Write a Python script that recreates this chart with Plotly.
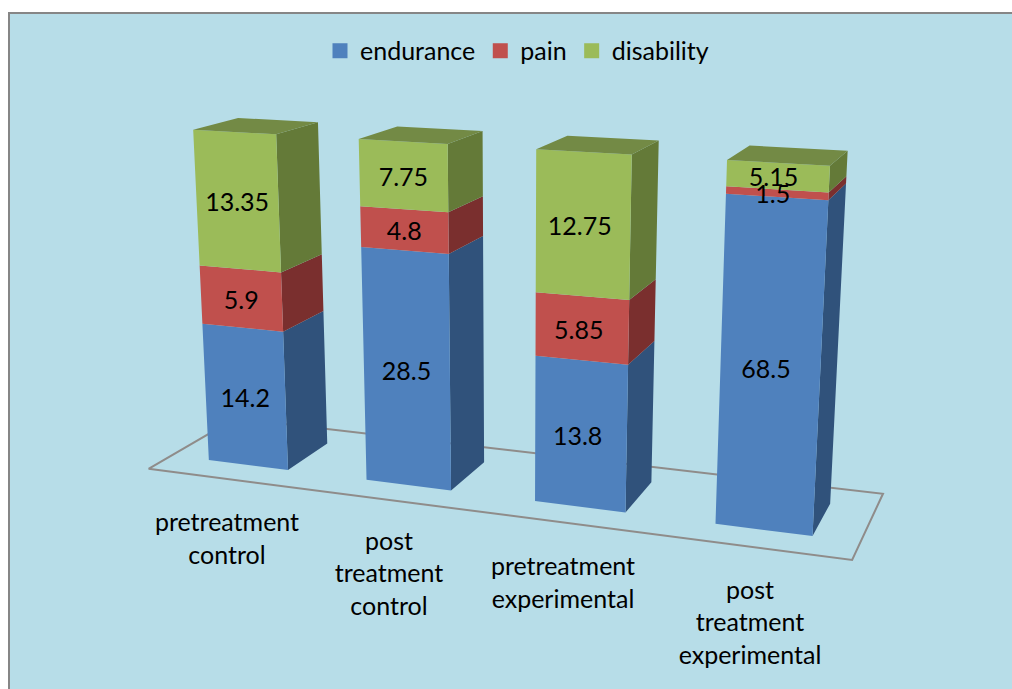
import numpy as np
import plotly.graph_objects as go

# ---- chart data ----
categories = ["pretreatment<br>control", "post<br>treatment<br>control",
              "pretreatment<br>experimental", "post<br>treatment<br>experimental"]
series_names = ["endurance", "pain", "disability"]
endurance = [14.2, 28.5, 13.8, 68.5]
pain = [5.9, 4.8, 5.85, 1.5]
disability = [13.35, 7.75, 12.75, 5.15]

# ---- styles ----
FONT = "Lato"
FS = 25
BG = "#B7DDE8"
FRONT = ["#4F81BD", "#C0504D", "#9BBB59"]
SIDE = ["#30527B", "#7A2F2E", "#647A38"]
TOP = "#738A45"
FLOOR = "#8F8C8A"
LABEL_DY = 4
LABEL_DX = [0, 0, -3, -4]
cat_label_xy = [(227, 541), (389, 576), (563, 585), (750, 625)]

# ---- camera calibration: picture positions of known points of the 3D chart box ----
floor_world = [(0, 0, 0), (4, 0, 0), (4, 1, 0), (0, 1, 0)]
floor_px = [(149, 469), (852, 559), (882, 494), (236, 418)]
# for each bar: top front-left, top front-right, top back-right, top back-left,
# bottom front-left, bottom front-right, bottom back-right
bar_px = [
    [(193, 130), (277, 135), (318, 122), (238, 118), (208, 460), (288, 470), (327, 443)],
    [(358, 139), (448, 144), (483, 131), (397, 126), (366, 480), (452, 491), (484, 462)],
    [(536, 149), (632, 154), (659, 141), (567, 136), (534, 501), (626, 512), (652, 483)],
    [(727, 160), (830, 166), (848, 151), (749, 145), (715, 524), (813, 536), (831, 504)],
]


def bar_world(i, g, a):
    x0, x1, y0, y1 = i + g, i + 1 - g, a, 1 - a
    return [(x0, y0, 1), (x1, y0, 1), (x1, y1, 1), (x0, y1, 1),
            (x0, y0, 0), (x1, y0, 0), (x1, y1, 0)]


def fit_camera(g, a):
    world = list(floor_world)
    px = list(floor_px)
    for i in range(4):
        world += bar_world(i, g, a)
        px += bar_px[i]
    rows = []
    for (X, Y, Z), (u, v) in zip(world, px):
        u, v = u / 500.0, v / 500.0
        rows.append([X, Y, Z, 1, 0, 0, 0, 0, -u * X, -u * Y, -u * Z, -u])
        rows.append([0, 0, 0, 0, X, Y, Z, 1, -v * X, -v * Y, -v * Z, -v])
    _, s, vt = np.linalg.svd(np.array(rows, dtype=float))
    return vt[-1].reshape(3, 4), s[-1]


best = None
for g_try in np.arange(0.18, 0.32, 0.005):
    for a_try in np.arange(0.05, 0.35, 0.01):
        P_try, err = fit_camera(g_try, a_try)
        if best is None or err < best[0]:
            best = (err, g_try, a_try, P_try)
_, GAP, DEPTH_GAP, P = best


def project(X, Y, Z):
    h = P @ np.array([X, Y, Z, 1.0])
    return 500.0 * h[0] / h[2], 500.0 * h[1] / h[2]


def add_poly(xs, ys, corners):
    for c in list(corners) + [corners[0]]:
        x, y = project(*c)
        xs.append(x)
        ys.append(y)
    xs.append(None)
    ys.append(None)


values = np.array([endurance, pain, disability], dtype=float)
shares = values / values.sum(axis=0)
levels = np.vstack([np.zeros(4), np.cumsum(shares, axis=0)])

fig = go.Figure()

# floor
fx, fy = [], []
add_poly(fx, fy, floor_world)
fig.add_trace(go.Scatter(x=fx[:-1], y=fy[:-1], mode="lines", showlegend=False, hoverinfo="skip",
                         line=dict(color=FLOOR, width=2)))

label_x, label_y, label_t = [], [], []
for s, name in enumerate(series_names):
    front_x, front_y, side_x, side_y = [], [], [], []
    for i in range(4):
        x0, x1, y0, y1 = i + GAP, i + 1 - GAP, DEPTH_GAP, 1 - DEPTH_GAP
        z0, z1 = levels[s, i], levels[s + 1, i]
        add_poly(side_x, side_y, [(x1, y0, z0), (x1, y1, z0), (x1, y1, z1), (x1, y0, z1)])
        add_poly(front_x, front_y, [(x0, y0, z0), (x1, y0, z0), (x1, y0, z1), (x0, y0, z1)])
        lx, ly = project((x0 + x1) / 2, y0, (z0 + z1) / 2)
        label_x.append(lx + LABEL_DX[i])
        label_y.append(ly + LABEL_DY)
        label_t.append(f"{values[s, i]:g}")
    fig.add_trace(go.Scatter(x=side_x, y=side_y, mode="lines", fill="toself", fillcolor=SIDE[s],
                             line=dict(width=0), showlegend=False, hoverinfo="skip"))
    fig.add_trace(go.Scatter(x=front_x, y=front_y, mode="lines", fill="toself", fillcolor=FRONT[s],
                             line=dict(width=0), showlegend=False, hoverinfo="skip"))
    # legend swatch
    fig.add_trace(go.Scatter(x=[None], y=[None], mode="markers", name=name,
                             marker=dict(symbol="square", size=15, color=FRONT[s])))

# tops
top_x, top_y = [], []
for i in range(4):
    x0, x1, y0, y1 = i + GAP, i + 1 - GAP, DEPTH_GAP, 1 - DEPTH_GAP
    add_poly(top_x, top_y, [(x0, y0, 1), (x1, y0, 1), (x1, y1, 1), (x0, y1, 1)])
fig.add_trace(go.Scatter(x=top_x, y=top_y, mode="lines", fill="toself", fillcolor=TOP,
                         line=dict(width=0), showlegend=False, hoverinfo="skip"))

# data labels
fig.add_trace(go.Scatter(x=label_x, y=label_y, text=label_t, mode="text", textposition="middle center",
                         textfont=dict(family=FONT, size=FS, color="black"),
                         showlegend=False, hoverinfo="skip"))
# category labels
fig.add_trace(go.Scatter(x=[p[0] for p in cat_label_xy], y=[p[1] for p in cat_label_xy], text=categories,
                         mode="text", textposition="middle center",
                         textfont=dict(family=FONT, size=FS, color="black"),
                         showlegend=False, hoverinfo="skip"))

fig.update_layout(
    width=1012, height=689, margin=dict(l=0, r=0, t=0, b=0),
    paper_bgcolor="white", plot_bgcolor="white",
    xaxis=dict(range=[0, 1012], visible=False, fixedrange=True),
    yaxis=dict(range=[689, 0], visible=False, fixedrange=True),
    shapes=[dict(type="rect", xref="x", yref="y", x0=9, y0=13, x1=1030, y1=700, layer="below",
                 fillcolor=BG, line=dict(color="#868686", width=2))],
    legend=dict(orientation="h", x=0.3162, y=0.926, xanchor="left", yanchor="middle",
                bgcolor="rgba(0,0,0,0)", font=dict(family=FONT, size=FS, color="black"),
                traceorder="normal", itemclick=False, itemdoubleclick=False),
)
fig.write_html("out.html", config={"displayModeBar": False},
               post_script="document.body.style.margin='0';")
